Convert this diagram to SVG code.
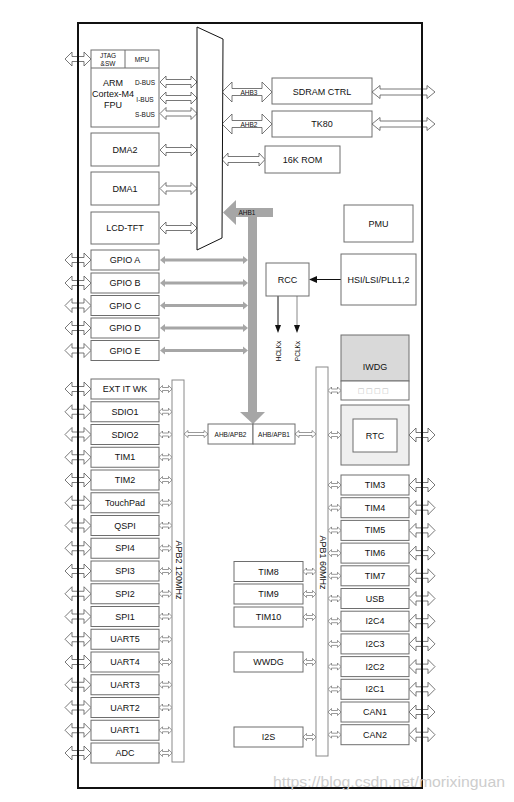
<svg xmlns="http://www.w3.org/2000/svg" xmlns:xlink="http://www.w3.org/1999/xlink" width="514" height="802" viewBox="0 0 514 802">
<style>
.box{fill:#fff;stroke:#6e6e6e;stroke-width:1}
.bar{fill:#fff;stroke:#8a8a8a;stroke-width:1}
.t{font-family:"Liberation Sans",Arial,sans-serif;font-size:9px;fill:#111;text-anchor:middle;dominant-baseline:central}
.s{font-size:6.5px}
.ha{fill:#fff;stroke:#555;stroke-width:0.8}
.hs{fill:#fff;stroke:#555;stroke-width:0.6}
.ga{fill:#a6a6a6}
</style>
<defs>
<path id="ea" class="ha" d="M0,0 L7,-7 L7,-2.5 L19,-2.5 L19,-7 L26,0 L19,7 L19,2.5 L7,2.5 L7,7 Z"/>
<path id="sa" class="hs" d="M0,0 L3.5,-3.5 L3.5,-1.5 L9.5,-1.5 L9.5,-3.5 L13,0 L9.5,3.5 L9.5,1.5 L3.5,1.5 L3.5,3.5 Z"/>
<path id="ma" class="ha" d="M0,0 L6,-6 L6,-2.5 L31,-2.5 L31,-6 L37,0 L31,6 L31,2.5 L6,2.5 L6,6 Z"/>
<path id="gaa" class="ga" d="M0,0 L5,-4 L5,-1.5 L83,-1.5 L83,-4 L88,0 L83,4 L83,1.5 L5,1.5 L5,4 Z"/>
</defs>
<rect width="514" height="802" fill="#fff"/>

<g id="connectors">
<!-- AHB1 gray bus -->
<path class="ga" d="M223,212.5 L236,200 L236,208 L273,208 L273,217 L257,217 L257,412 L265,412 L253,424 L240,412 L248,412 L248,217 L236,217 L236,225 Z"/>
<text class="t s" x="247" y="212.5">AHB1</text>
<!-- GPIO gray arrows -->
<use href="#gaa" x="160" y="260"/>
<use href="#gaa" x="160" y="283"/>
<use href="#gaa" x="160" y="305.5"/>
<use href="#gaa" x="160" y="328"/>
<use href="#gaa" x="160" y="350.5"/>
<!-- CPU buses -->
<use href="#ma" x="160" y="82"/>
<use href="#ma" x="160" y="98"/>
<use href="#ma" x="160" y="113.5"/>
<use href="#ma" x="160" y="150"/>
<use href="#ma" x="160" y="188.5"/>
<use href="#ma" x="160" y="228"/>
<!-- AHB3 / AHB2 -->
<path class="ha" d="M222,92 L232,82 L232,88.5 L262,88.5 L262,82 L272,92 L262,102 L262,95.5 L232,95.5 L232,102 Z"/>
<text class="t s" x="249" y="92">AHB3</text>
<path class="ha" d="M222,124 L232,114 L232,120.5 L262,120.5 L262,114 L272,124 L262,134 L262,127.5 L232,127.5 L232,134 Z"/>
<text class="t s" x="249" y="124">AHB2</text>
<path class="ha" d="M372,92 L380,85.5 L380,89 L427,89 L427,85.5 L435,92 L427,98.5 L427,95 L380,95 L380,98.5 Z"/>
<path class="ha" d="M372,124 L380,117.5 L380,121 L427,121 L427,117.5 L435,124 L427,130.5 L427,127 L380,127 L380,130.5 Z"/>
<path class="ha" d="M222,159.5 L228,153 L228,156.5 L259,156.5 L259,153 L265,159.5 L259,166 L259,162.5 L228,162.5 L228,166 Z"/>
<!-- bridges -->
<path class="hs" d="M184,434 L188,430.5 L188,432.5 L204,432.5 L204,430.5 L208,434 L204,437.5 L204,435.5 L188,435.5 L188,437.5 Z"/>
<path class="hs" d="M295,434 L299,430.5 L299,432.5 L312,432.5 L312,430.5 L316,434 L312,437.5 L312,435.5 L299,435.5 L299,437.5 Z"/>
<!-- RCC clock -->
<line x1="341" y1="279.5" x2="316" y2="279.5" stroke="#111" stroke-width="1"/>
<polygon points="309,279.5 317,276 317,283" fill="#111"/>
<line x1="278" y1="296" x2="278" y2="326" stroke="#111" stroke-width="1"/>
<polygon points="278,333 275,325 281,325" fill="#111"/>
<line x1="297" y1="296" x2="297" y2="326" stroke="#888" stroke-width="1"/>
<polygon points="297,333 294,325 300,325" fill="#111"/>
<text class="t s" x="278" y="351" transform="rotate(-90 278 351)">HCLKx</text>
<text class="t s" x="297" y="351" transform="rotate(-90 297 351)">PCLKx</text>
<!-- left edge arrows -->
<use href="#ea" x="65" y="59"/>
<use href="#ea" x="65" y="260"/>
<use href="#ea" x="65" y="283"/>
<use href="#ea" x="65" y="305.5"/>
<use href="#ea" x="65" y="328"/>
<use href="#ea" x="65" y="350.5"/>
<use href="#ea" x="65" y="389"/>
<use href="#ea" x="65" y="411.75"/>
<use href="#ea" x="65" y="434.5"/>
<use href="#ea" x="65" y="457.25"/>
<use href="#ea" x="65" y="480"/>
<use href="#ea" x="65" y="502.75"/>
<use href="#ea" x="65" y="525.5"/>
<use href="#ea" x="65" y="548.25"/>
<use href="#ea" x="65" y="571"/>
<use href="#ea" x="65" y="593.75"/>
<use href="#ea" x="65" y="616.5"/>
<use href="#ea" x="65" y="639.25"/>
<use href="#ea" x="65" y="662"/>
<use href="#ea" x="65" y="684.75"/>
<use href="#ea" x="65" y="707.5"/>
<use href="#ea" x="65" y="730.25"/>
<use href="#ea" x="65" y="753"/>
<!-- APB2 small arrows -->
<use href="#sa" x="159" y="389"/>
<use href="#sa" x="159" y="411.75"/>
<use href="#sa" x="159" y="434.5"/>
<use href="#sa" x="159" y="457.25"/>
<use href="#sa" x="159" y="480"/>
<use href="#sa" x="159" y="502.75"/>
<use href="#sa" x="159" y="525.5"/>
<use href="#sa" x="159" y="548.25"/>
<use href="#sa" x="159" y="571"/>
<use href="#sa" x="159" y="593.75"/>
<use href="#sa" x="159" y="616.5"/>
<use href="#sa" x="159" y="639.25"/>
<use href="#sa" x="159" y="662"/>
<use href="#sa" x="159" y="684.75"/>
<use href="#sa" x="159" y="707.5"/>
<use href="#sa" x="159" y="730.25"/>
<use href="#sa" x="159" y="753"/>
<!-- APB1 small arrows -->
<use href="#sa" x="328" y="390.5"/>
<use href="#sa" x="328" y="435"/>
<use href="#sa" x="328" y="485"/>
<use href="#sa" x="328" y="507.7"/>
<use href="#sa" x="328" y="530.4"/>
<use href="#sa" x="328" y="553.1"/>
<use href="#sa" x="328" y="575.8"/>
<use href="#sa" x="328" y="598.5"/>
<use href="#sa" x="328" y="621.2"/>
<use href="#sa" x="328" y="643.9"/>
<use href="#sa" x="328" y="666.6"/>
<use href="#sa" x="328" y="689.3"/>
<use href="#sa" x="328" y="712"/>
<use href="#sa" x="328" y="734.7"/>
<use href="#sa" x="303" y="571.5"/>
<use href="#sa" x="303" y="594"/>
<use href="#sa" x="303" y="617"/>
<use href="#sa" x="303" y="662"/>
<use href="#sa" x="303" y="737"/>
<!-- right edge arrows -->
<use href="#ea" x="409" y="435"/>
<use href="#ea" x="409" y="485"/>
<use href="#ea" x="409" y="507.7"/>
<use href="#ea" x="409" y="530.4"/>
<use href="#ea" x="409" y="553.1"/>
<use href="#ea" x="409" y="575.8"/>
<use href="#ea" x="409" y="598.5"/>
<use href="#ea" x="409" y="621.2"/>
<use href="#ea" x="409" y="643.9"/>
<use href="#ea" x="409" y="666.6"/>
<use href="#ea" x="409" y="689.3"/>
<use href="#ea" x="409" y="712"/>
<use href="#ea" x="409" y="734.7"/>
</g>

<g id="matrix"><polygon points="197,27 223,39 222,238 197,250" fill="#fff" stroke="#111" stroke-width="1"/></g>

<g id="cpu">
<rect class="box" x="91" y="50" width="68" height="77"/>
<line x1="91" y1="68" x2="159" y2="68" stroke="#6e6e6e"/>
<line x1="125" y1="50" x2="125" y2="68" stroke="#6e6e6e"/>
<text class="t s" x="108" y="55">JTAG</text>
<text class="t s" x="108" y="63">&amp;SW</text>
<text class="t s" x="142" y="59.5">MPU</text>
<text class="t" x="113" y="83">ARM</text>
<text class="t" x="113" y="94">Cortex-M4</text>
<text class="t" x="113" y="105">FPU</text>
<text class="t s" x="145" y="82">D-BUS</text>
<text class="t s" x="145" y="99">I-BUS</text>
<text class="t s" x="145" y="114">S-BUS</text>
</g>
<g id="dma2"><rect class="box" x="91" y="133" width="68" height="33"/><text class="t" x="125" y="149.5">DMA2</text></g>
<g id="dma1"><rect class="box" x="91" y="172" width="68" height="33"/><text class="t" x="125" y="188.5">DMA1</text></g>
<g id="lcd"><rect class="box" x="91" y="212" width="68" height="32"/><text class="t" x="125" y="228">LCD-TFT</text></g>
<g id="sdram"><rect class="box" x="272" y="78" width="100" height="26"/><text class="t" x="322" y="91.5">SDRAM CTRL</text></g>
<g id="tk80"><rect class="box" x="272" y="111" width="100" height="26"/><text class="t" x="322" y="124">TK80</text></g>
<g id="rom"><rect class="box" x="265" y="146" width="75" height="27"/><text class="t" x="302.5" y="159.5">16K ROM</text></g>
<g id="pmu"><rect class="box" x="344" y="205" width="69" height="37"/><text class="t" x="378.5" y="223.5">PMU</text></g>
<g id="hsi"><rect class="box" x="341" y="254" width="75" height="51"/><text class="t" x="378.5" y="279.5">HSI/LSI/PLL1,2</text></g>
<g id="rcc"><rect class="box" x="266" y="263" width="43" height="33"/><text class="t" x="287.5" y="279.5">RCC</text></g>

<g id="gpioa"><rect class="box" x="91" y="250" width="68" height="20"/><text class="t" x="125" y="260">GPIO A</text></g>
<g id="gpiob"><rect class="box" x="91" y="273" width="68" height="20"/><text class="t" x="125" y="283">GPIO B</text></g>
<g id="gpioc"><rect class="box" x="91" y="295.5" width="68" height="20"/><text class="t" x="125" y="305.5">GPIO C</text></g>
<g id="gpiod"><rect class="box" x="91" y="318" width="68" height="20"/><text class="t" x="125" y="328">GPIO D</text></g>
<g id="gpioe"><rect class="box" x="91" y="340.5" width="68" height="20"/><text class="t" x="125" y="350.5">GPIO E</text></g>

<g id="iwdg">
<rect x="341" y="335" width="68" height="46" fill="#d9d9d9" stroke="#6e6e6e"/>
<rect class="box" x="341" y="381" width="68" height="19"/>
<text class="t" x="375" y="367">IWDG</text>
<text x="374" y="390.5" font-family="'DejaVu Sans',sans-serif" font-size="7" fill="#bbb" text-anchor="middle" dominant-baseline="central" letter-spacing="1.5">□□□□</text>
</g>
<g id="rtc">
<rect x="341" y="405" width="68" height="60" fill="#efefef" stroke="#6e6e6e"/>
<rect class="box" x="353" y="419" width="44" height="33"/>
<text class="t" x="375" y="435.5">RTC</text>
</g>

<g id="bridge2"><rect class="box" x="208" y="424" width="45" height="20"/><text class="t s" x="230.5" y="434">AHB/APB2</text></g>
<g id="bridge1"><rect class="box" x="253" y="424" width="42" height="20"/><text class="t s" x="274" y="434">AHB/APB1</text></g>

<g id="apb2"><rect class="bar" x="172" y="380" width="12" height="382"/><text class="t" x="178.5" y="570" transform="rotate(90 178.5 570)">APB2 120MHz</text></g>
<g id="apb1"><rect class="bar" x="316" y="367" width="12" height="389"/><text class="t" x="322.5" y="562.5" transform="rotate(90 322.5 562.5)">APB1 60MHz</text></g>

<g id="extitwk"><rect class="box" x="91" y="379" width="68" height="20"/><text class="t" x="125" y="389">EXT IT WK</text></g>
<g id="sdio1"><rect class="box" x="91" y="401.75" width="68" height="20"/><text class="t" x="125" y="411.75">SDIO1</text></g>
<g id="sdio2"><rect class="box" x="91" y="424.5" width="68" height="20"/><text class="t" x="125" y="434.5">SDIO2</text></g>
<g id="tim1"><rect class="box" x="91" y="447.25" width="68" height="20"/><text class="t" x="125" y="457.25">TIM1</text></g>
<g id="tim2"><rect class="box" x="91" y="470" width="68" height="20"/><text class="t" x="125" y="480">TIM2</text></g>
<g id="touchpad"><rect class="box" x="91" y="492.75" width="68" height="20"/><text class="t" x="125" y="502.75">TouchPad</text></g>
<g id="qspi"><rect class="box" x="91" y="515.5" width="68" height="20"/><text class="t" x="125" y="525.5">QSPI</text></g>
<g id="spi4"><rect class="box" x="91" y="538.25" width="68" height="20"/><text class="t" x="125" y="548.25">SPI4</text></g>
<g id="spi3"><rect class="box" x="91" y="561" width="68" height="20"/><text class="t" x="125" y="571">SPI3</text></g>
<g id="spi2"><rect class="box" x="91" y="583.75" width="68" height="20"/><text class="t" x="125" y="593.75">SPI2</text></g>
<g id="spi1"><rect class="box" x="91" y="606.5" width="68" height="20"/><text class="t" x="125" y="616.5">SPI1</text></g>
<g id="uart5"><rect class="box" x="91" y="629.25" width="68" height="20"/><text class="t" x="125" y="639.25">UART5</text></g>
<g id="uart4"><rect class="box" x="91" y="652" width="68" height="20"/><text class="t" x="125" y="662">UART4</text></g>
<g id="uart3"><rect class="box" x="91" y="674.75" width="68" height="20"/><text class="t" x="125" y="684.75">UART3</text></g>
<g id="uart2"><rect class="box" x="91" y="697.5" width="68" height="20"/><text class="t" x="125" y="707.5">UART2</text></g>
<g id="uart1"><rect class="box" x="91" y="720.25" width="68" height="20"/><text class="t" x="125" y="730.25">UART1</text></g>
<g id="adc"><rect class="box" x="91" y="743" width="68" height="20"/><text class="t" x="125" y="753">ADC</text></g>

<g id="tim3"><rect class="box" x="341" y="475" width="68" height="20"/><text class="t" x="375" y="485">TIM3</text></g>
<g id="tim4"><rect class="box" x="341" y="497.7" width="68" height="20"/><text class="t" x="375" y="507.7">TIM4</text></g>
<g id="tim5"><rect class="box" x="341" y="520.4" width="68" height="20"/><text class="t" x="375" y="530.4">TIM5</text></g>
<g id="tim6"><rect class="box" x="341" y="543.1" width="68" height="20"/><text class="t" x="375" y="553.1">TIM6</text></g>
<g id="tim7"><rect class="box" x="341" y="565.8" width="68" height="20"/><text class="t" x="375" y="575.8">TIM7</text></g>
<g id="usb"><rect class="box" x="341" y="588.5" width="68" height="20"/><text class="t" x="375" y="598.5">USB</text></g>
<g id="i2c4"><rect class="box" x="341" y="611.2" width="68" height="20"/><text class="t" x="375" y="621.2">I2C4</text></g>
<g id="i2c3"><rect class="box" x="341" y="633.9" width="68" height="20"/><text class="t" x="375" y="643.9">I2C3</text></g>
<g id="i2c2"><rect class="box" x="341" y="656.6" width="68" height="20"/><text class="t" x="375" y="666.6">I2C2</text></g>
<g id="i2c1"><rect class="box" x="341" y="679.3" width="68" height="20"/><text class="t" x="375" y="689.3">I2C1</text></g>
<g id="can1"><rect class="box" x="341" y="702" width="68" height="20"/><text class="t" x="375" y="712">CAN1</text></g>
<g id="can2"><rect class="box" x="341" y="724.7" width="68" height="20"/><text class="t" x="375" y="734.7">CAN2</text></g>

<g id="tim8"><rect class="box" x="234" y="561.5" width="69" height="20"/><text class="t" x="268.5" y="571.5">TIM8</text></g>
<g id="tim9"><rect class="box" x="234" y="584" width="69" height="20"/><text class="t" x="268.5" y="594">TIM9</text></g>
<g id="tim10"><rect class="box" x="234" y="607" width="69" height="20"/><text class="t" x="268.5" y="617">TIM10</text></g>
<g id="wwdg"><rect class="box" x="234" y="652" width="69" height="20"/><text class="t" x="268.5" y="662">WWDG</text></g>
<g id="i2s"><rect class="box" x="234" y="727" width="69" height="20"/><text class="t" x="268.5" y="737">I2S</text></g>

<g id="chip"><rect x="78" y="23" width="344" height="765" fill="none" stroke="#111" stroke-width="2"/></g>
<text x="273" y="787" font-family="'Liberation Sans',Arial,sans-serif" font-size="15.5" fill="#cdcdcd" textLength="232" lengthAdjust="spacingAndGlyphs">https://blog.csdn.net/morixinguan</text>
</svg>
